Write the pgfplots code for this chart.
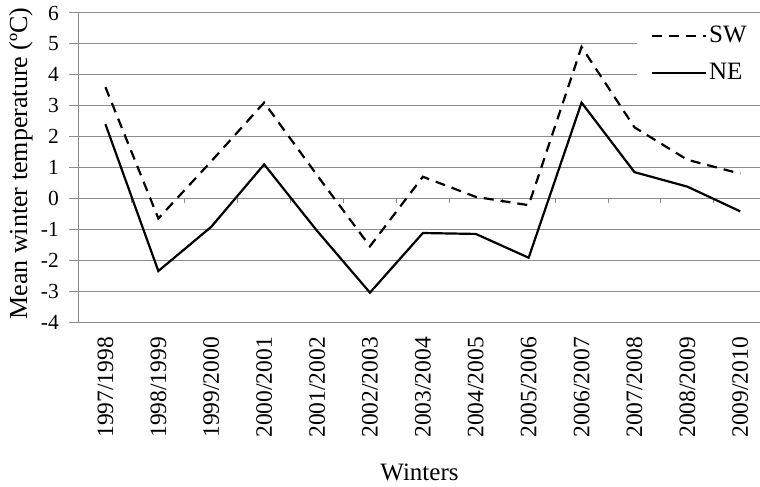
\documentclass[border=0pt]{standalone}
\usepackage{fontspec}
\setmainfont{Liberation Serif}
\usepackage{pgfplots}
\pgfplotsset{compat=1.18}
\usepackage{pgfplotstable}

% Mean winter temperature per winter, south-west and north-east
\pgfplotstableread{
idx SW NE
0 3.60 2.40
1 -0.65 -2.35
2 1.20 -0.92
3 3.10 1.10
4 0.75 -1.05
5 -1.55 -3.05
6 0.70 -1.12
7 0.05 -1.15
8 -0.22 -1.92
9 4.90 3.10
10 2.30 0.85
11 1.25 0.38
12 0.80 -0.42
}\wintertemps

\definecolor{gridgray}{gray}{0.55}

\begin{document}
\fontsize{21bp}{25bp}\selectfont
\begin{tikzpicture}
\useasboundingbox (-79bp,-165bp) rectangle (681bp,322bp);
\begin{axis}[
  at={(0,0)}, anchor=south west,
  scale only axis, width=681bp, height=309bp,
  xmin=-0.5, xmax=12.373, ymin=-4, ymax=6,
  axis x line*=bottom, axis y line*=left,
  axis line style={gridgray, line width=1bp},
  xtick={0,...,12},
  xticklabels={1997/1998,1998/1999,1999/2000,2000/2001,2001/2002,2002/2003,2003/2004,2004/2005,2005/2006,2006/2007,2007/2008,2008/2009,2009/2010},
  x tick style={draw=none},
  xticklabel style={rotate=90, anchor=east, inner sep=0pt, font=\fontsize{23.5bp}{27bp}\selectfont},
  xticklabel shift=5bp,
  ytick={-4,...,6},
  y tick style={draw=gridgray, line width=1bp},
  tick align=outside, major tick length=10bp,
  yticklabel style={inner sep=0pt, font=\fontsize{21.5bp}{25bp}\selectfont},
  yticklabel shift=10bp,
  /pgf/number format/assume math mode=true,
  ymajorgrids, major grid style={gridgray, line width=1bp},
  ylabel={Mean winter temperature (ºC)},
  every axis y label/.style={at={(axis description cs:-0.0852,0.513)}, rotate=90, anchor=center,
    font=\fontsize{26bp}{30bp}\selectfont},
  xlabel={Winters},
  every axis x label/.style={at={(axis description cs:0.5,0)}, anchor=center, yshift=-150bp,
    font=\fontsize{25bp}{29bp}\selectfont},
  legend style={at={(rel axis cs:0.819,0.975)}, anchor=north west, draw=none, fill=white,
    inner xsep=14bp, inner ysep=3bp, row sep=14bp,
    font=\fontsize{25bp}{29bp}\selectfont, cells={anchor=west},
    nodes={inner xsep=2bp, inner ysep=2bp}},
  legend image code/.code={\draw[#1] (0bp,0bp) -- (54bp,0bp);},
]
% horizontal axis line at zero with ticks between categories
\draw[gridgray, line width=1bp] (axis cs:-0.5,0) -- (axis cs:12.373,0);
\pgfplotsinvokeforeach{0.5,1.5,2.5,3.5,4.5,5.5,6.5,7.5,8.5,9.5,10.5,11.5}{
  \draw[gridgray, line width=1bp] (axis cs:#1,0) -- ++(0pt,-5bp);
}
\addplot[black, line width=2.2bp, dash pattern=on 10bp off 7bp] table[x=idx, y=SW] {\wintertemps};
\addlegendentry{SW}
\addplot[black, line width=2.2bp] table[x=idx, y=NE] {\wintertemps};
\addlegendentry{NE}
\end{axis}
\end{tikzpicture}
\end{document}
